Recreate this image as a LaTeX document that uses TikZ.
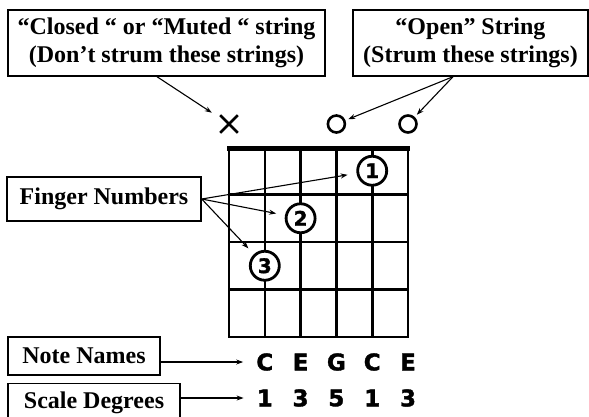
\documentclass[tikz,border=0pt]{standalone}
\usepackage{fontspec}
\setmainfont{Liberation Serif}
\newfontfamily\chordfont{DejaVu Sans}[BoldFeatures={FakeBold=1.6}]
\usetikzlibrary{arrows.meta, positioning, shapes.misc}

\begin{document}
\begin{tikzpicture}[
    x=1pt, y=-1pt,
    >={Stealth[length=7pt,width=5pt]},
    labelbox/.style={rectangle, draw, line width=1.4pt, minimum height=38pt, inner sep=0pt, align=center, font=\fontsize{24}{28}\selectfont\bfseries},
    fingerdot/.style={circle, draw, line width=2.8pt, fill=white, minimum size=29pt, inner sep=0pt, font=\chordfont\fontsize{20}{20}\selectfont\bfseries},
    notelabel/.style={inner sep=0pt, font=\chordfont\fontsize{23}{23}\selectfont\bfseries},
    openmark/.style={circle, draw, line width=2.6pt, minimum size=17pt, inner sep=0pt},
    mutemark/.style={cross out, draw, line width=2.6pt, minimum size=15pt, inner sep=0pt},
    gridline/.style={line width=2.6pt, line cap=rect},
    pointer/.style={->, line width=1.1pt}
]
\clip (0,0) rectangle (589,416);

% fretboard
\foreach \s in {1,...,6}
  \draw[gridline] ({229+(\s-1)*35.8},148) -- ({229+(\s-1)*35.8},337);
\foreach \f in {1,...,4}
  \draw[gridline] (229,{147+\f*47.5}) -- (408,{147+\f*47.5});
\draw[line width=4.5pt, line cap=rect] (229,148.5) -- (408,148.5);

% fingers (C chord)
\node[fingerdot] (f1) at (372.2,170.75) {1};
\node[fingerdot] (f2) at (300.6,218.25) {2};
\node[fingerdot] (f3) at (264.8,265.75) {3};

% open / muted strings
\node[mutemark] (mute1) at (229,124) {};
\node[openmark] (open4) at (336.4,124) {};
\node[openmark] (open6) at (408,124) {};

% note names and scale degrees
\foreach \n/\s in {C/2,E/3,G/4,C/5,E/6}
  \node[notelabel] (n\s) at ({229+(\s-1)*35.8},362) {\n};
\foreach \d/\s in {1/2,3/3,5/4,1/5,3/6}
  \node[notelabel] (d\s) at ({229+(\s-1)*35.8},398) {\d};

% label boxes
\node[labelbox, minimum width=317pt, minimum height=66pt] (closed) at (166.5,43) {“Closed “ or “Muted “ string\\(Don’t strum these strings)};
\node[labelbox, minimum width=235pt, minimum height=66pt] (open) at (470.5,43) {“Open” String\\(Strum these strings)};
\node[labelbox, minimum width=194pt, minimum height=44pt] (fingers) at (104,199) {Finger Numbers};
\node[labelbox, minimum width=152pt] (names) at (84,356) {Note Names};
\node[labelbox, minimum width=172pt, below=7pt of names.south west, anchor=north west] (degrees) {Scale Degrees};

% pointers
\draw[pointer, shorten >=10pt] ([xshift=-9.5pt]closed.south) -- (mute1);
\draw[pointer, shorten >=3pt] ([xshift=-17.5pt]open.south) -- (open4);
\draw[pointer, shorten >=3pt] ([xshift=-17.5pt]open.south) -- (open6);
\draw[pointer, shorten >=9pt] (fingers.east) -- (f1);
\draw[pointer, shorten >=9pt] (fingers.east) -- (f2);
\draw[pointer, shorten >=8pt] (fingers.east) -- (f3);
\draw[pointer, shorten >=13pt] (names.east |- n2) -- (n2);
\draw[pointer, shorten >=13pt] (degrees.east |- d2) -- (d2);
\end{tikzpicture}
\end{document}
